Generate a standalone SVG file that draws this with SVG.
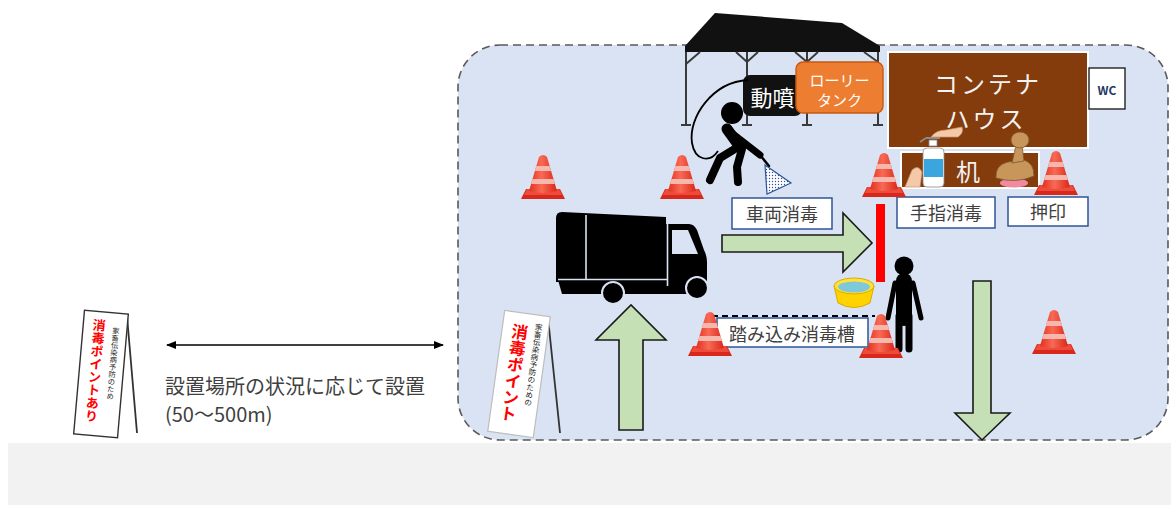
<svg xmlns="http://www.w3.org/2000/svg" width="1171" height="505" viewBox="0 0 1171 505">
  <style>
    text { font-family: "Noto Sans CJK JP", "Noto Sans", sans-serif; }
    .lbl rect { fill: #ffffff; stroke: #2f5597; stroke-width: 1.5; }
    .lbl text { font-size: 18px; fill: #404040; text-anchor: middle; dominant-baseline: central; }
    .flow { fill: #c5e0b4; stroke: #1a1a1a; stroke-width: 1.6; stroke-linejoin: miter; }
    .leg { stroke: #3a3a3a; stroke-width: 2; fill: none; }
    .fig { stroke: #000; stroke-linecap: round; stroke-linejoin: round; fill: none; }
    .vt { writing-mode: vertical-rl; }
  </style>
  <defs>
    <linearGradient id="coneGrad" x1="0" x2="1" y1="0" y2="0">
      <stop offset="0" stop-color="#e2301f"/>
      <stop offset="0.45" stop-color="#f86a55"/>
      <stop offset="1" stop-color="#d9271a"/>
    </linearGradient>
    <pattern id="dots" width="3" height="3" patternUnits="userSpaceOnUse">
      <rect width="3" height="3" fill="#ffffff"/>
      <circle cx="1.5" cy="1.5" r="0.7" fill="#2f5597"/>
    </pattern>
    <marker id="dblHead" viewBox="0 0 10 10" refX="9" refY="5" markerWidth="8" markerHeight="8" orient="auto-start-reverse">
      <path d="M0,1 L10,5 L0,9 Z" fill="#000"/>
    </marker>
    <!-- traffic cone, origin at the centre of its base -->
    <g id="cone">
      <path d="M-22,0 L22,0 L17,-10 L-17,-10 Z" fill="#d8281b"/>
      <path d="M-19,-4 L19,-4 L16,-10 L-16,-10 Z" fill="#ef4b3b"/>
      <path d="M-14,-8 Q0,-4 14,-8 L4,-42 Q0,-46 -4,-42 Z" fill="url(#coneGrad)"/>
      <path d="M-6.6,-33 L6.6,-33 L8.1,-28 L-8.1,-28 Z" fill="#f8b7ad"/>
      <path d="M-10.5,-20 L10.5,-20 L11.9,-15 L-11.9,-15 Z" fill="#f8b7ad"/>
    </g>
  </defs>

  <!-- ground strip -->
  <rect x="8" y="443" width="1163" height="62" fill="#f2f2f2"/>

  <!-- disinfection site area -->
  <g id="site">
    <rect x="458" y="45" width="710" height="395" rx="42" fill="#dae3f3" stroke="#595959" stroke-width="1.6" stroke-dasharray="8 5"/>
  </g>

  <!-- left roadside sign -->
  <g id="sign-far">
    <line x1="127" y1="316" x2="137" y2="433" stroke="#333" stroke-width="1.8"/>
    <g transform="translate(101,374) rotate(5)">
      <rect x="-22" y="-62" width="44" height="124" fill="#fff" stroke="#333" stroke-width="1.4"/>
      <text class="vt" x="-6" y="-55" font-size="13" font-weight="bold" fill="#ff0000">消毒ポイントあり</text>
      <text class="vt" x="11" y="-48" font-size="7.3" fill="#222">家畜伝染病予防のため</text>
    </g>
  </g>

  <!-- distance note -->
  <g id="distance">
    <text x="165" y="394" font-size="20" fill="#404040">設置場所の状況に応じて設置</text>
    <text x="165" y="422" font-size="20" fill="#404040">(50～500m)</text>
  </g>

  <!-- tent over the power sprayer -->
  <g id="tent">
    <polygon points="715,13 842,23 880,46 880,52 685,52 685,46" fill="#111"/>
    <path class="leg" d="M686,52 V125 M747,52 V125 M807,52 V125 M878,52 V125"/>
    <path class="leg" d="M681,125 H691 M742,125 H752 M802,125 H812 M873,125 H883"/>
    <path class="leg" d="M686,64 L700,52 M736,52 L747,62 L758,52 M795,52 L807,62 L818,52 M864,52 L878,62"/>
  </g>

  <!-- power sprayer -->
  <g id="sprayer">
    <rect x="743" y="75" width="59" height="41" rx="7" fill="#111"/>
    <text x="772.5" y="96" font-size="22" fill="#fff" text-anchor="middle" dominant-baseline="central">動噴</text>
  </g>

  <!-- water tank -->
  <g id="tank">
    <rect x="796" y="62" width="87" height="51" rx="7" fill="#ed7d31" stroke="#c55a11" stroke-width="1.4"/>
    <text x="839.5" y="79" font-size="15" fill="#fff" text-anchor="middle" dominant-baseline="central">ローリー</text>
    <text x="839.5" y="99" font-size="15" fill="#fff" text-anchor="middle" dominant-baseline="central">タンク</text>
  </g>

  <!-- worker spraying the vehicle -->
  <g id="worker-spray">
    <path d="M748,80 C712,82 688,118 692,143 C695,161 710,163 718,151" fill="none" stroke="#000" stroke-width="1.8"/>
    <circle cx="732" cy="113" r="11" fill="#000"/>
    <path class="fig" stroke-width="11" d="M727,129 L740,147"/>
    <path class="fig" stroke-width="7" d="M733,134 L760,155"/>
    <path class="fig" stroke-width="8" d="M738,147 L720,158 L710,180"/>
    <path class="fig" stroke-width="8" d="M742,149 L737,167 L738,182"/>
    <path class="fig" stroke-width="2.5" d="M760,155 L769,166"/>
    <polygon points="765,165 791,183 767,194" fill="url(#dots)" stroke="#2f5597" stroke-width="1.2"/>
  </g>

  <!-- container house -->
  <g id="container-house">
    <rect x="888" y="52" width="200" height="96" fill="#843c0c" stroke="#fff" stroke-width="2"/>
    <text x="988" y="82" font-size="24" fill="#f2f2f2" text-anchor="middle" dominant-baseline="central" letter-spacing="3">コンテナ</text>
    <text x="986" y="117" font-size="24" fill="#f2f2f2" text-anchor="middle" dominant-baseline="central" letter-spacing="3">ハウス</text>
  </g>

  <!-- toilet -->
  <g id="wc">
    <rect x="1089" y="68" width="36" height="41" fill="#fff" stroke="#222" stroke-width="1.4"/>
    <text x="1107" y="89" font-family="Liberation Sans, sans-serif" font-size="12" font-weight="bold" fill="#1f3864" text-anchor="middle" dominant-baseline="central">WC</text>
  </g>

  <!-- desk with sanitizer and stamp -->
  <g id="desk">
    <rect x="901" y="152" width="138" height="36" fill="#843c0c" stroke="#fff" stroke-width="2"/>
    <text x="968" y="170" font-size="24" fill="#f2f2f2" text-anchor="middle" dominant-baseline="central">机</text>
    <!-- sanitizer bottle -->
    <path d="M929,140 H937 V146 H929 Z" fill="#fff" stroke="#8a8a8a" stroke-width="0.8"/>
    <path d="M926,138 H940 M926,138 L920,142" stroke="#8a8a8a" stroke-width="2" fill="none"/>
    <rect x="923" y="148" width="21" height="39" rx="4" fill="#fff" stroke="#8a8a8a" stroke-width="0.8"/>
    <rect x="924" y="159" width="19" height="18" fill="#3aa6dd"/>
    <!-- hand pressing the pump -->
    <path d="M931,137 Q936,130 946,130 L962,127 Q964,133 958,137 Z" fill="#f4c9a8" stroke="#c9926b" stroke-width="0.7"/>
    <!-- hand under the spout -->
    <path d="M905,187 L912,170 Q918,164 922,172 L920,187 Z" fill="#f4c9a8" stroke="#c9926b" stroke-width="0.7"/>
    <!-- stamp and pad -->
    <ellipse cx="1014" cy="183" rx="14" ry="4.5" fill="#f08aa0"/>
    <path d="M996,178 Q995,165 1008,162 L1024,160 Q1034,163 1034,176 Q1016,184 996,178 Z" fill="#c8955a" stroke="#7a5a30" stroke-width="0.8"/>
    <path d="M1012,163 L1016,145 L1022,145 L1024,161 Z" fill="#c8955a" stroke="#7a5a30" stroke-width="0.8"/>
    <ellipse cx="1020" cy="140" rx="9" ry="8" fill="#c8955a" stroke="#7a5a30" stroke-width="0.8"/>
  </g>

  <!-- task labels -->
  <g id="label-vehicle" class="lbl">
    <rect x="732" y="198" width="100" height="31"/>
    <text x="782" y="213">車両消毒</text>
  </g>
  <g id="label-hand" class="lbl">
    <rect x="897" y="197" width="98" height="31"/>
    <text x="946" y="212">手指消毒</text>
  </g>
  <g id="label-stamp" class="lbl">
    <rect x="1008" y="197" width="80" height="29"/>
    <text x="1048" y="211">押印</text>
  </g>
  <g id="label-footbath" class="lbl">
    <line x1="712" y1="316" x2="875" y2="316" stroke="#000" stroke-width="2" stroke-dasharray="6 4"/>
    <rect x="717" y="318" width="151" height="29"/>
    <text x="792" y="332.5" font-size="19">踏み込み消毒槽</text>
  </g>

  <!-- barrier and foot bath -->
  <g id="barrier">
    <rect x="876" y="204" width="9" height="78" fill="#ff0000"/>
  </g>
  <g id="bucket">
    <path d="M834,286 L838,303 Q854,312 870,303 L874,286 Z" fill="#ffd200" stroke="#d9ad00" stroke-width="1"/>
    <ellipse cx="854" cy="286" rx="20" ry="8" fill="#ffe040" stroke="#d9ad00" stroke-width="1"/>
    <ellipse cx="854" cy="287" rx="16" ry="5.5" fill="#7ec8d8"/>
  </g>

  <!-- worker at the checkpoint -->
  <g id="worker-stand">
    <circle cx="904" cy="266" r="9.5" fill="#000"/>
    <path class="fig" stroke-width="16" stroke-linecap="butt" d="M904,281 V318"/>
    <path class="fig" stroke-width="5" d="M895,283 L888,318 M913,283 L921,318"/>
    <path class="fig" stroke-width="7" d="M899,316 V349 M909,316 V349"/>
  </g>

  <!-- truck -->
  <g id="truck">
    <path d="M556,218 Q556,212 562,212 L666,217 L667,282 L556,282 Z" fill="#000"/>
    <path d="M666,224 L689,224 Q694,224 697,230 L704,250 Q707,256 707,262 L707,290 L666,290 Z" fill="#000"/>
    <path d="M558,280 H706 V294 H562 Z" fill="#000"/>
    <path d="M672,230 L688,230 L698,254 L672,254 Z" fill="#dae3f3"/>
    <path d="M586,215 V279 M667.5,218 V286 M558,279.5 H667" stroke="#dae3f3" stroke-width="1.6" fill="none"/>
    <circle cx="613" cy="293" r="11" fill="#000" stroke="#dae3f3" stroke-width="2"/>
    <circle cx="697" cy="288" r="11" fill="#000" stroke="#dae3f3" stroke-width="2"/>
  </g>

  <!-- near sign at the site entrance -->
  <g id="sign-near">
    <line x1="548" y1="318" x2="560" y2="433" stroke="#333" stroke-width="1.8"/>
    <g transform="translate(519,374) rotate(8)">
      <rect x="-23" y="-61" width="46" height="122" fill="#fff" stroke="#bdbdbd" stroke-width="1.2"/>
      <text class="vt" x="-5" y="-50" font-size="16.5" font-weight="bold" fill="#ff0000">消毒ポイント</text>
      <text class="vt" x="13" y="-53" font-size="7.6" fill="#222">家畜伝染病予防のための</text>
    </g>
  </g>

  <!-- traffic cones -->
  <g id="cones">
    <use href="#cone" x="543" y="199"/>
    <use href="#cone" x="682" y="199"/>
    <use href="#cone" x="884" y="197"/>
    <use href="#cone" x="1056" y="195"/>
    <use href="#cone" x="710" y="356"/>
    <use href="#cone" x="881" y="358"/>
    <use href="#cone" x="1054" y="354"/>
  </g>

  <!-- traffic flow and distance arrows -->
  <g id="connectors">
    <polygon class="flow" points="619,430 619,340 596,340 631,305 666,340 643,340 643,430"/>
    <polygon class="flow" points="722,235 843,235 843,213 872,243 843,272 843,252 722,252"/>
    <polygon class="flow" points="973,281 991,281 991,413 1010,413 982,440 955,413 973,413"/>
    <line x1="167" y1="345" x2="443" y2="345" stroke="#000" stroke-width="1.3" marker-start="url(#dblHead)" marker-end="url(#dblHead)"/>
  </g>
</svg>
